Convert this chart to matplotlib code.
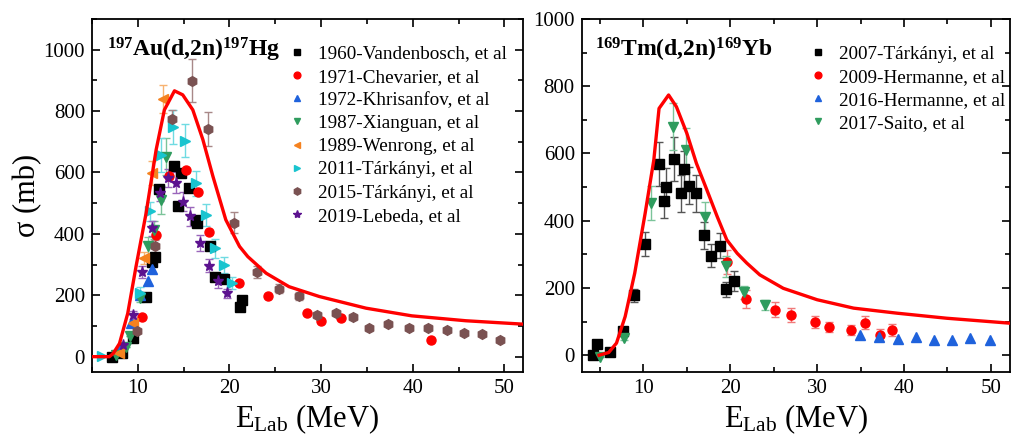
import numpy as np
import matplotlib
matplotlib.use("Agg")
from matplotlib import pyplot as plt
from matplotlib.ticker import MultipleLocator

plt.rcParams['font.family'] = ['Liberation Serif', 'DejaVu Serif']
plt.rcParams['mathtext.fontset'] = 'custom'
plt.rcParams['mathtext.rm'] = 'Liberation Serif'
plt.rcParams['mathtext.it'] = 'Liberation Serif:italic'
plt.rcParams['mathtext.bf'] = 'Liberation Serif:bold'

# ---------------- 197Au(d,2n)197Hg ----------------
au_calc_e = [5.0, 6.9, 7.3, 8.0, 8.9, 9.8, 10.9, 12.0, 12.9, 14.0, 14.9, 16.0, 17.1, 18.2, 19.6, 21.1, 22.0, 24.0, 26.5, 29.8, 34.9, 39.9, 45.8, 52.0]
au_calc_xs = [0, 0, 10, 43, 141, 293, 467, 674, 804, 866, 853, 804, 707, 587, 446, 359, 326, 272, 228, 196, 158, 133, 117, 106]

vand_e = [7.2, 8.3, 9.5, 10.9, 11.6, 11.9, 12.3, 13.9, 14.4, 14.7, 15.6, 16.4, 16.5, 17.9, 18.4, 19.4, 21.1, 21.4]
vand_xs = [0, 11, 60, 196, 310, 326, 546, 620, 492, 598, 549, 446, 437, 361, 261, 252, 163, 183]

chev_e = [10.5, 12.0, 13.4, 15.3, 16.6, 17.8, 21.0, 24.2, 28.5, 30.0, 32.2, 42.0]
chev_xs = [128, 397, 587, 607, 538, 405, 241, 198, 143, 116, 125, 54]

khri_e = [8.0, 9.3, 10.2, 11.1, 11.6]
khri_xs = [27, 111, 201, 245, 285]

xian_e = [7.6, 8.7, 9.2, 10.2, 11.1, 11.8, 12.5, 13.1]
xian_xs = [5, 33, 67, 192, 359, 413, 511, 652]
xian_err = [0, 0, 0, 15, 30, 30, 45, 60]

wenr_e = [7.9, 9.5, 10.7, 11.6, 12.7]
wenr_xs = [11, 111, 321, 598, 840]
wenr_err = [0, 10, 20, 40, 45]

tark11_e = [6.1, 10.2, 11.3, 12.5, 13.8, 15.1, 16.4, 17.4, 18.4, 19.4, 20.3]
tark11_xs = [2, 207, 473, 658, 748, 704, 565, 462, 353, 299, 239]
tark11_err = [0, 20, 30, 55, 55, 55, 40, 35, 30, 25, 20]

tark15_e = [9.9, 11.9, 13.7, 15.9, 17.7, 20.5, 23.0, 25.4, 27.6, 29.6, 31.6, 33.5, 35.2, 37.3, 39.6, 41.7, 43.7, 45.6, 47.6, 49.5]
tark15_xs = [85, 359, 775, 899, 741, 437, 277, 221, 198, 136, 143, 130, 92, 107, 95, 95, 87, 78, 73, 54]
tark15_err = [8, 20, 30, 70, 55, 35, 20, 15, 12, 10, 10, 10, 8, 8, 8, 8, 8, 6, 6, 5]

lebe_e = [8.4, 9.5, 10.5, 11.5, 12.4, 13.3, 14.2, 14.9, 15.7, 16.8, 17.8, 18.8, 19.7]
lebe_xs = [38, 136, 277, 418, 533, 582, 567, 505, 457, 370, 297, 245, 207]
lebe_err = [5, 12, 20, 25, 25, 30, 35, 30, 30, 25, 20, 20, 15]

# ---------------- 169Tm(d,2n)169Yb ----------------
tm_calc_e = [4.9, 6.0, 6.9, 7.9, 9.0, 10.2, 11.2, 11.8, 12.9, 13.8, 15.0, 16.1, 17.3, 18.5, 19.6, 20.8, 21.9, 23.4, 26.1, 30.0, 34.2, 39.2, 44.9, 52.3]
tm_calc_xs = [0, 8, 36, 115, 244, 422, 581, 734, 774, 739, 660, 571, 492, 412, 343, 303, 274, 239, 199, 165, 140, 125, 110, 95]

t07_e = [4.2, 4.7, 6.1, 7.6, 8.9, 10.2, 11.8, 12.4, 12.6, 13.5, 14.3, 14.7, 15.3, 16.1, 17.0, 17.8, 18.8, 19.5, 20.4]
t07_xs = [0, 33, 11, 73, 178, 331, 568, 459, 501, 583, 482, 553, 504, 482, 357, 296, 326, 196, 221]
t07_err = [0, 0, 0, 8, 20, 35, 65, 50, 55, 65, 55, 55, 55, 55, 40, 35, 37, 22, 30]

h09_e = [19.6, 21.8, 25.1, 27.0, 29.7, 31.4, 33.9, 35.5, 37.2, 38.6]
h09_xs = [277, 167, 135, 120, 100, 85, 75, 97, 60, 75]
h09_err = [35, 27, 22, 20, 18, 15, 15, 20, 18, 18]

h16_e = [34.9, 37.1, 39.3, 41.4, 43.5, 45.5, 47.6, 49.9]
h16_xs = [60, 54, 48, 54, 46, 44, 50, 46]

saito_e = [5.0, 7.8, 10.9, 13.4, 14.9, 17.1, 19.5, 21.6, 24.0]
saito_xs = [-4, 51, 452, 680, 610, 412, 264, 187, 150]
saito_err = [0, 5, 50, 70, 65, 45, 30, 20, 15]


def series(ax, e, xs, err, marker, color, ecolor, label, ms=6.5):
    if err is not None:
        ax.errorbar(e, xs, yerr=err, fmt='none', ecolor=ecolor, elinewidth=1.0,
                    capsize=3, capthick=1.0, zorder=2)
    ax.plot(e, xs, ls='none', marker=marker, ms=ms, color=color, mec=color,
            label=label, zorder=3)


def style_axes(ax, lims):
    ax.set_xlim(lims[0])
    ax.set_ylim(lims[1])
    ax.xaxis.set_major_locator(MultipleLocator(10))
    ax.xaxis.set_minor_locator(MultipleLocator(5))
    ax.yaxis.set_major_locator(MultipleLocator(200))
    ax.yaxis.set_minor_locator(MultipleLocator(100))
    ax.tick_params(which='both', direction='in', top=True, right=True, labelsize=15, width=1.2)
    ax.tick_params(which='major', length=6, pad=5)
    ax.tick_params(which='minor', length=3.5)
    for s in ax.spines.values():
        s.set_linewidth(1.3)
    ax.set_xlabel(r'E$_{\mathrm{Lab}}$ (MeV)', fontsize=22, labelpad=3)


def add_legend(ax, x):
    ax.legend(loc='upper left', bbox_to_anchor=(x, 0.926), frameon=False, fontsize=13.8,
              markerscale=0.75, handlelength=1.0, handletextpad=0.6, labelspacing=0.3,
              borderaxespad=0, borderpad=0)


fig = plt.figure(figsize=(10.11, 4.40), dpi=100)
ax1 = fig.add_axes([0.091, 0.1545, 0.426, 0.8023])
ax2 = fig.add_axes([0.5754, 0.1545, 0.4236, 0.8023])

blue = '#1f62dc'
green = '#2f9c5e'
orange = '#f5821f'
cyan = '#19c4cf'
brown = '#7a5252'
purple = '#5c128f'

ax1.plot(au_calc_e, au_calc_xs, color='#ff0000', lw=2.4, zorder=4)
series(ax1, vand_e, vand_xs, None, 's', 'black', 'black', '1960-Vandenbosch, et al')
series(ax1, chev_e, chev_xs, None, 'o', '#ff0000', '#ff0000', '1971-Chevarier, et al')
series(ax1, khri_e, khri_xs, None, '^', blue, blue, '1972-Khrisanfov, et al')
series(ax1, xian_e, xian_xs, xian_err, 'v', green, '#7cc49a', '1987-Xianguan, et al')
series(ax1, wenr_e, wenr_xs, wenr_err, '<', orange, '#f7b270', '1989-Wenrong, et al')
series(ax1, tark11_e, tark11_xs, tark11_err, '>', cyan, '#6fdbe2', '2011-Tárkányi, et al')
series(ax1, tark15_e, tark15_xs, tark15_err, 'h', brown, '#a88888', '2015-Tárkányi, et al', ms=7)
series(ax1, lebe_e, lebe_xs, lebe_err, '*', purple, '#9a66bb', '2019-Lebeda, et al', ms=8)
style_axes(ax1, [(5, 52), (-50, 1100)])
ax1.set_ylabel('σ (mb)', fontsize=22, labelpad=1)
ax1.text(0.035, 0.895, r'$^{\mathbf{197}}$Au(d,2n)$^{\mathbf{197}}$Hg', transform=ax1.transAxes,
         fontsize=17, fontweight='bold')
add_legend(ax1, 0.4534)

ax2.plot(tm_calc_e, tm_calc_xs, color='#ff0000', lw=2.4, zorder=4)
series(ax2, t07_e, t07_xs, t07_err, 's', 'black', '#555555', '2007-Tárkányi, et al')
series(ax2, h09_e, h09_xs, h09_err, 'o', '#ff0000', '#f07a7a', '2009-Hermanne, et al')
series(ax2, h16_e, h16_xs, None, '^', blue, blue, '2016-Hermanne, et al')
series(ax2, saito_e, saito_xs, saito_err, 'v', green, '#7cc49a', '2017-Saito, et al')
style_axes(ax2, [(2.9, 52.2), (-50, 1000)])
ax2.text(0.03, 0.895, r'$^{\mathbf{169}}$Tm(d,2n)$^{\mathbf{169}}$Yb', transform=ax2.transAxes,
         fontsize=17, fontweight='bold')
add_legend(ax2, 0.529)

plt.savefig('out.png', dpi=100)
